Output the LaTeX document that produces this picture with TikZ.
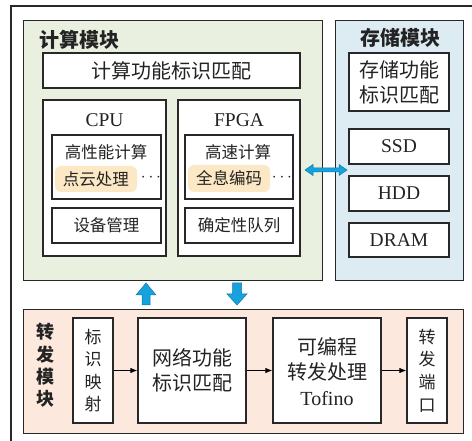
\documentclass[tikz,border=0pt]{standalone}
\usepackage{fontspec}
\setmainfont{Noto Sans CJK SC}
\newfontfamily\lat{Liberation Serif}
\usetikzlibrary{arrows.meta,calc}
\definecolor{greenfill}{RGB}{234,240,224}
\definecolor{bluefill}{RGB}{221,236,243}
\definecolor{pinkfill}{RGB}{252,232,220}
\definecolor{hlfill}{RGB}{252,232,196}
\definecolor{arrowblue}{RGB}{22,162,222}
\definecolor{linec}{RGB}{40,40,40}
\definecolor{textc}{RGB}{35,35,35}
\tikzset{
  modbox/.style={draw=linec, line width=1.2pt, inner sep=0pt, anchor=north west},
  box/.style={draw=linec, line width=1.2pt, fill=white, inner sep=0pt, text=textc, align=center},
  hl/.style={fill=hlfill, rounded corners=6pt, inner sep=0pt, text=textc},
  lbl/.style={inner sep=0pt, text=textc, align=center},
  ttl/.style={inner sep=0pt, text=textc, font=\fontsize{20}{24}\selectfont\bfseries},
  fz19/.style={font=\fontsize{20}{25}\selectfont},
  fz16/.style={font=\fontsize{16.5}{20}\selectfont},
  latf/.style={font=\fontsize{19.5}{24}\selectfont\lat},
  vert/.style={font=\fontsize{17}{22.6}\selectfont},
  fatarrow/.style={fill=arrowblue, draw=arrowblue!75!black, line width=0.5pt},
  conn/.style={draw=black, line width=1pt, -{Latex[length=7pt,width=5.5pt]}}
}
\begin{document}
\begin{tikzpicture}[x=1pt,y=-1pt]
\useasboundingbox (0,0) rectangle (472,441);
\fill[white] (0,0) rectangle (472,441);
% outer frame (cropped at right and bottom)
\draw[linec, line width=1.2pt] (11,450) -- (11,6) -- (480,6);

% modules
\node[modbox, fill=greenfill, minimum width=299pt, minimum height=260pt] (compute) at (23,20) {};
\node[modbox, fill=bluefill, minimum width=128pt, minimum height=260pt] (storage) at (335,20) {};
\node[modbox, fill=pinkfill, minimum width=440pt, minimum height=124pt] (forward) at (23,309) {};

% compute module
\node[ttl, anchor=west] (ctitle) at (39,40) {计算模块};
\node[box, fz19, minimum width=257pt, minimum height=35pt] (cfid) at (171.5,70.5) {计算功能标识匹配};
\node[box, minimum width=123pt, minimum height=156pt] (cpu) at (104.5,178) {};
\node[lbl, latf] (cpulbl) at (104.5,120) {CPU};
\node[box, minimum width=122pt, minimum height=156pt] (fpga) at (239,178) {};
\node[lbl, latf] (fpgalbl) at (239,120) {FPGA};

\node[box, minimum width=109pt, minimum height=64pt] (cpuhp) at (106.5,167) {};
\node[lbl, fz16] (cpuhpt) at (106,152) {高性能计算};
\node[hl, fz16, minimum width=82pt, minimum height=26pt] (pcl) at (96,179) {点云处理};
\node[lbl, font=\fontsize{16}{20}\selectfont] (cdots) at (151,178) {$\cdots$};
\node[box, fz16, minimum width=109pt, minimum height=35pt] (cpudm) at (106.5,225.5) {设备管理};

\node[box, minimum width=108pt, minimum height=64pt] (fpgahs) at (239,167) {};
\node[lbl, fz16] (fpgahst) at (238,152) {高速计算};
\node[hl, fz16, minimum width=82pt, minimum height=27pt] (holo) at (229,178.5) {全息编码};
\node[lbl, font=\fontsize{16}{20}\selectfont] (fdots) at (282,178) {$\cdots$};
\node[box, fz16, minimum width=108pt, minimum height=35pt] (fpgaq) at (239,225.5) {确定性队列};

% storage module
\node[ttl, anchor=center] (stitle) at (400,38) {存储模块};
\node[box, fz19, minimum width=100pt, minimum height=58pt] (sfid) at (399,82) {存储功能\\[0pt]标识匹配};
\node[box, latf, minimum width=100pt, minimum height=35pt] (ssd) at (399,146.5) {SSD};
\node[box, latf, minimum width=100pt, minimum height=35pt] (hdd) at (399,193.5) {HDD};
\node[box, latf, minimum width=100pt, minimum height=34pt] (dram) at (399,240) {DRAM};

% forwarding module
\node[lbl, font=\fontsize{18}{22.4}\selectfont\bfseries] (ftitle) at (46,365.5) {转\\发\\模\\块};
\node[box, vert, minimum width=40pt, minimum height=105pt] (idmap) at (93,370.5) {标\\识\\映\\射};
\node[box, fz19, minimum width=108pt, minimum height=105pt] (nfid) at (192,370.5) {网络功能\\标识匹配};
\node[box, minimum width=108pt, minimum height=105pt] (tofino) at (327,370.5) {};
\node[lbl, font=\fontsize{20}{25.5}\selectfont] (tofinot) at (327,371.5) {可编程\\转发处理\\{\lat Tofino}};
\node[box, vert, minimum width=40pt, minimum height=105pt] (port) at (427,370.5) {转\\发\\端\\口};

\draw[conn] (idmap) -- (nfid);
\draw[conn] (nfid) -- (tofino);
\draw[conn] (tofino) -- (port);

% fat arrows
\coordinate (dl) at (305,170);
\coordinate (dr) at (347,170);
\path[fatarrow] (dl) -- ($(dl)+(8,-5.5)$) -- ($(dl)+(8,-2)$) -- ($(dr)+(-8,-2)$) -- ($(dr)+(-8,-5.5)$) -- (dr)
  -- ($(dr)+(-8,5.5)$) -- ($(dr)+(-8,2)$) -- ($(dl)+(8,2)$) -- ($(dl)+(8,5.5)$) -- cycle;

\coordinate (ut) at (146,283);
\coordinate (ub) at (146,305);
\path[fatarrow] (ut) -- ($(ut)+(10,12)$) -- ($(ut)+(4,12)$) -- ($(ub)+(4,0)$) -- ($(ub)+(-4,0)$)
  -- ($(ut)+(-4,12)$) -- ($(ut)+(-10,12)$) -- cycle;

\coordinate (dtop) at (237,283);
\coordinate (dtip) at (237,305);
\path[fatarrow] ($(dtop)+(-4.5,0)$) -- ($(dtop)+(4.5,0)$) -- ($(dtip)+(4.5,-11)$) -- ($(dtip)+(10,-11)$)
  -- (dtip) -- ($(dtip)+(-10,-11)$) -- ($(dtip)+(-4.5,-11)$) -- cycle;
\end{tikzpicture}
\end{document}
